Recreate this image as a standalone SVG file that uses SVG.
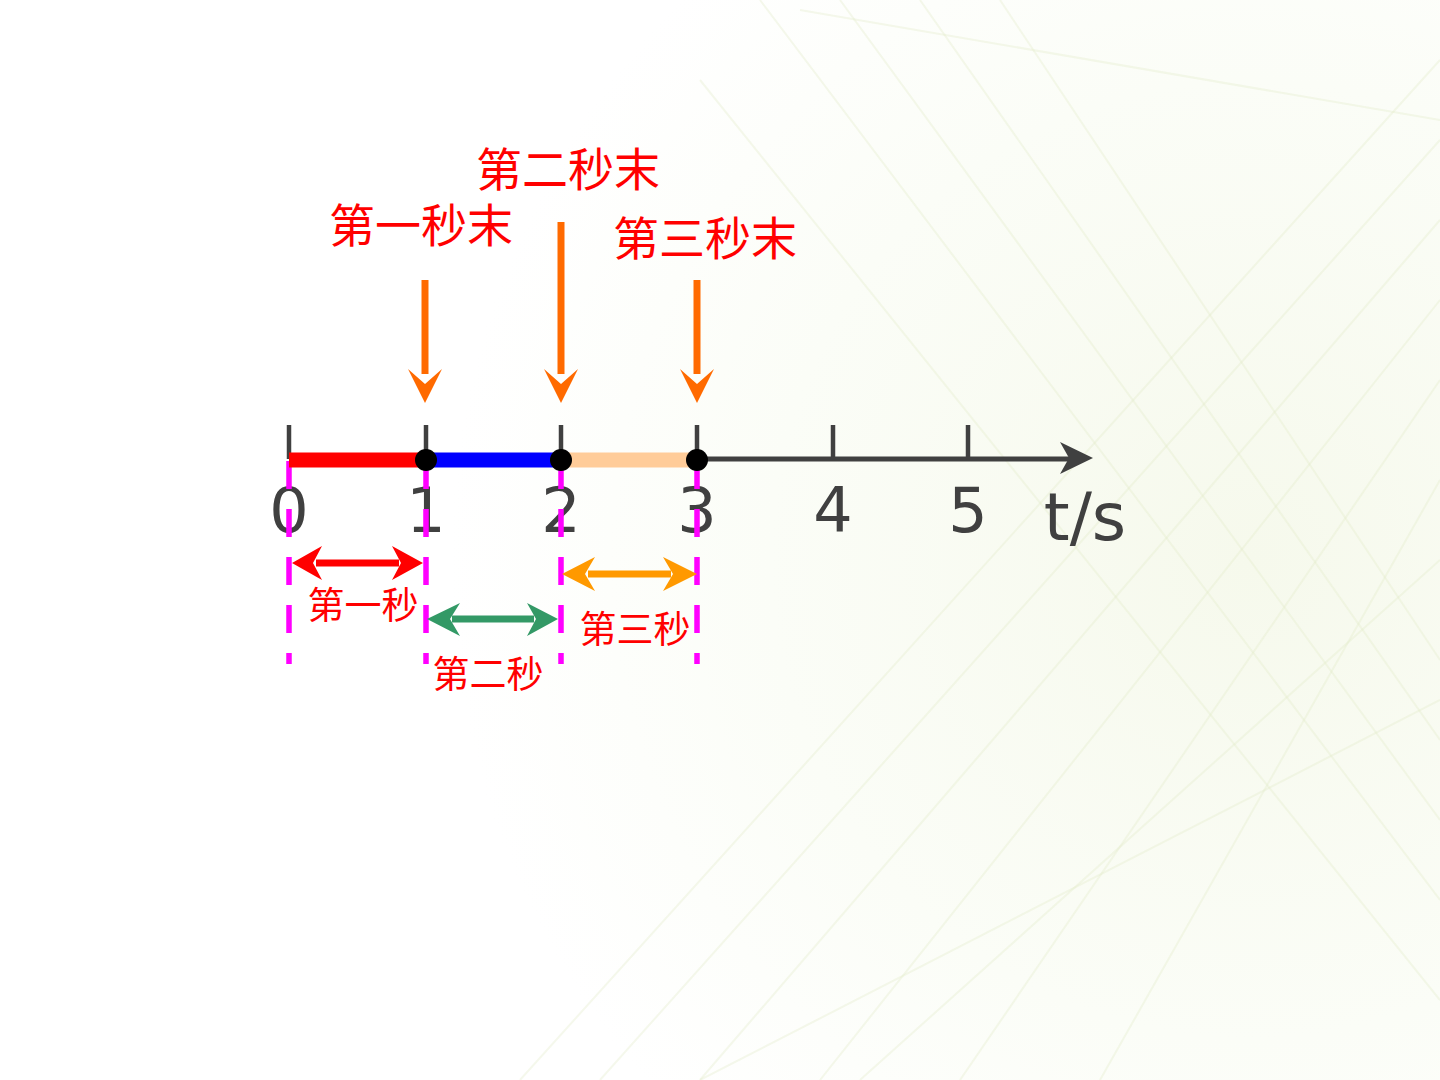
<svg xmlns="http://www.w3.org/2000/svg" width="1440" height="1080" viewBox="0 0 1440 1080">
<defs>
<radialGradient id="bg" cx="1250" cy="560" r="800" gradientUnits="userSpaceOnUse">
<stop offset="0" stop-color="#f6f9ec"/>
<stop offset="0.6" stop-color="#fbfdf7"/>
<stop offset="1" stop-color="#ffffff"/>
</radialGradient>
<style>
.streak{stroke:#e3ebc8;stroke-width:2;opacity:0.35;fill:none}
.tick{stroke:#404040;stroke-width:4.5}
.num{font-family:"DejaVu Sans",Verdana,sans-serif;font-size:62px;fill:#404040;text-anchor:middle}
.big{font-family:"Liberation Serif","Noto Sans CJK SC",serif;font-size:46px;fill:#ff0000;text-anchor:middle}
.small{font-family:"Liberation Serif","Noto Sans CJK SC",serif;font-size:37px;fill:#ff0000;text-anchor:middle}
.dash{stroke:#ff00ff;stroke-width:5.5;stroke-dasharray:28 20}
.down{fill:#ff6a00}
.downline{stroke:#ff6a00;stroke-width:7}
</style>
</defs>
<rect width="1440" height="1080" fill="url(#bg)"/>
<g id="background">
<line class="streak" x1="1440" y1="60" x2="520" y2="1080"/>
<line class="streak" x1="1440" y1="140" x2="600" y2="1080"/>
<line class="streak" x1="1440" y1="220" x2="700" y2="1080"/>
<line class="streak" x1="1440" y1="300" x2="820" y2="1080"/>
<line class="streak" x1="1440" y1="380" x2="960" y2="1080"/>
<line class="streak" x1="1440" y1="480" x2="1100" y2="1080"/>
<line class="streak" x1="1440" y1="900" x2="760" y2="0"/>
<line class="streak" x1="1440" y1="820" x2="840" y2="0"/>
<line class="streak" x1="1440" y1="740" x2="920" y2="0"/>
<line class="streak" x1="1440" y1="660" x2="1000" y2="0"/>
<line class="streak" x1="1440" y1="1000" x2="700" y2="80"/>
<line class="streak" x1="1440" y1="560" x2="860" y2="1080"/>
<line class="streak" x1="1440" y1="700" x2="700" y2="1080"/>
<line class="streak" x1="1440" y1="120" x2="800" y2="10"/>
</g>
<g id="connectors">
<line x1="289" y1="459" x2="1070" y2="459" stroke="#404040" stroke-width="5"/>
<path d="M1093,458 L1060,442 L1069,458 L1060,474 Z" fill="#404040"/>
<line class="tick" x1="289" y1="425" x2="289" y2="459"/>
<line class="tick" x1="426" y1="425" x2="426" y2="459"/>
<line class="tick" x1="561" y1="425" x2="561" y2="459"/>
<line class="tick" x1="697" y1="425" x2="697" y2="459"/>
<line class="tick" x1="833" y1="425" x2="833" y2="459"/>
<line class="tick" x1="968" y1="425" x2="968" y2="459"/>
</g>
<g id="numbers">
<text class="num" x="289" y="532">0</text>
<text class="num" x="426" y="532">1</text>
<text class="num" x="561" y="532">2</text>
<text class="num" x="697" y="532">3</text>
<text class="num" x="833" y="532">4</text>
<text class="num" x="968" y="532">5</text>
<text x="1085" y="540" font-family="DejaVu Sans,Verdana,sans-serif" font-size="66" fill="#404040" text-anchor="middle">t/s</text>
</g>
<g id="dashes">
<line class="dash" x1="289" y1="461" x2="289" y2="664"/>
<line class="dash" x1="426" y1="461" x2="426" y2="664"/>
<line class="dash" x1="561" y1="461" x2="561" y2="664"/>
<line class="dash" x1="697" y1="461" x2="697" y2="664"/>
</g>
<g id="segments">
<line x1="289" y1="460" x2="426" y2="460" stroke="#ff0000" stroke-width="15"/>
<line x1="426" y1="460" x2="561" y2="460" stroke="#0000ff" stroke-width="15"/>
<line x1="561" y1="460" x2="697" y2="460" stroke="#ffcc99" stroke-width="15"/>
<circle cx="426" cy="460" r="11" fill="#000"/>
<circle cx="561" cy="460" r="11" fill="#000"/>
<circle cx="697" cy="460" r="11" fill="#000"/>
</g>
<g id="marker-arrows">
<line class="downline" x1="425" y1="280" x2="425" y2="374"/>
<path class="down" d="M408,369 L425,403 L442,369 L425,384 Z"/>
<line class="downline" x1="561" y1="222" x2="561" y2="374"/>
<path class="down" d="M544,369 L561,403 L578,369 L561,384 Z"/>
<line class="downline" x1="697" y1="280" x2="697" y2="374"/>
<path class="down" d="M680,369 L697,403 L714,369 L697,384 Z"/>
</g>
<g id="label-end1"><text class="big" x="421" y="242">第一秒末</text></g>
<g id="label-end2"><text class="big" x="568" y="186">第二秒末</text></g>
<g id="label-end3"><text class="big" x="705" y="255">第三秒末</text></g>
<g id="interval1">
<line x1="316" y1="563" x2="399" y2="563" stroke="#ff0000" stroke-width="7"/>
<path d="M292,563 L322,546 L313,563 L322,580 Z" fill="#ff0000"/>
<path d="M423,563 L392,546 L401,563 L392,580 Z" fill="#ff0000"/>
<text class="small" x="363" y="619">第一秒</text>
</g>
<g id="interval2">
<line x1="452" y1="619" x2="534" y2="619" stroke="#339966" stroke-width="7"/>
<path d="M427,619 L460,603 L450,619 L460,636 Z" fill="#339966"/>
<path d="M558,619 L527,603 L536,619 L527,636 Z" fill="#339966"/>
<text class="small" x="488" y="688">第二秒</text>
</g>
<g id="interval3">
<line x1="588" y1="574" x2="671" y2="574" stroke="#ff9900" stroke-width="7"/>
<path d="M562,574 L595,557 L585,574 L595,591 Z" fill="#ff9900"/>
<path d="M697,574 L663,557 L673,574 L663,591 Z" fill="#ff9900"/>
<text class="small" x="635" y="643">第三秒</text>
</g>
</svg>
